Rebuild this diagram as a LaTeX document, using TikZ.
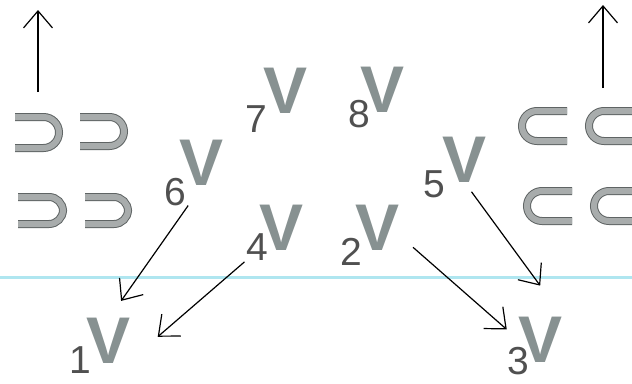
\documentclass[tikz,border=0pt]{standalone}
\usepackage{fontspec}
\newfontfamily\vfont{Liberation Sans}
\usetikzlibrary{arrows.meta}

\definecolor{vgray}{RGB}{135,145,145}
\definecolor{ngray}{RGB}{80,80,80}
\definecolor{hookedge}{RGB}{95,100,100}
\definecolor{hookfill}{RGB}{168,172,172}
\definecolor{scanline}{RGB}{175,230,240}

\begin{document}
\begin{tikzpicture}[x=1pt, y=-1pt,
    vert/.style={inner sep=0, text=vgray, font=\vfont\bfseries\fontsize{66}{66}\selectfont},
    num/.style={inner sep=0, text=ngray, font=\vfont\fontsize{39}{39}\selectfont},
    hook/.style={draw=hookedge, line width=1pt, double=hookfill, double distance=6pt},
    arr/.style={line width=1.2pt, -{Straight Barb[length=17pt, width=29pt]}}]
    \useasboundingbox (0,0) rectangle (632,383);
    \fill[white] (0,0) rectangle (632,383);
    \draw[scanline, line width=3pt] (0,277.5) -- (632,277.5);
    \coordinate (upL) at (38,92);
    \coordinate (upLtip) at (38,10);
    \coordinate (upR) at (603,88);
    \coordinate (upRtip) at (603,5);
    \draw [arr] (upL) -- (upLtip);
    \draw [arr] (upR) -- (upRtip);
    \draw [hook, rounded corners=15.5pt] (15,117) -- (59,117) -- (59,148) -- (15,148);
    \draw [hook, rounded corners=14.5pt] (80,117) -- (124,117) -- (124,146) -- (80,146);
    \draw [hook, rounded corners=14pt] (18,197) -- (63,197) -- (63,224) -- (18,224);
    \draw [hook, rounded corners=14pt] (85,197) -- (128,197) -- (128,224) -- (85,224);
    \draw [hook, rounded corners=15pt] (567,111) -- (522,111) -- (522,141) -- (567,141);
    \draw [hook, rounded corners=15pt] (636,111) -- (589,111) -- (589,141) -- (636,141);
    \draw [hook, rounded corners=15pt] (572,191) -- (527,191) -- (527,221) -- (572,221);
    \draw [hook, rounded corners=15pt] (636,191) -- (594,191) -- (594,221) -- (636,221);
    \node[vert] (v7) at (286,91) {V};
    \node[num] (n7) at (256,119) {7};
    \node[vert] (v8) at (383,90) {V};
    \node[num] (n8) at (359,114) {8};
    \node[vert] (v6) at (202,163) {V};
    \node[num] (n6) at (175,192) {6};
    \node[vert] (v5) at (465,160) {V};
    \node[num] (n5) at (434,184) {5};
    \node[vert] (v4) at (282,228) {V};
    \node[num] (n4) at (257,247) {4};
    \node[vert] (v2) at (378,228) {V};
    \node[num] (n2) at (351,252) {2};
    \node[vert] (v1) at (109,341) {V};
    \node[num] (n1) at (80,360) {1};
    \node[vert] (v3) at (541,340) {V};
    \node[num] (n3) at (518,361) {3};
    \draw [arr, shorten <=24pt, shorten >=21pt] (v6.south) -- (v1.north);
    \draw [arr, shorten <=2pt, shorten >=35pt] (n4.south west) -- (v1.-40);
    \draw [arr, shorten <=17pt, shorten >=16pt] (v2.-20) -- (v3.west);
    \draw [arr, shorten <=11pt, shorten >=39pt] (v5.south) -- (v3.north east);
\end{tikzpicture}
\end{document}
